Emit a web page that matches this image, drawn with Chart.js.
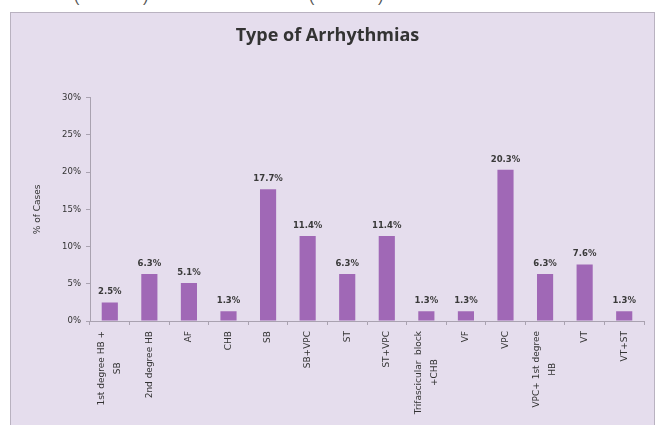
<!DOCTYPE html>
<html>
<head>
<meta charset="utf-8">
<script src="https://cdn.jsdelivr.net/npm/chart.js@4/dist/chart.umd.min.js"></script>
<style>
  html, body { margin: 0; padding: 0; background: #ffffff; overflow: hidden; }
  .paren {
    position: absolute; top: -12px;
    font: 16px "Liberation Sans", sans-serif; color: #555;
  }
  #frame {
    position: absolute; left: 10px; top: 12px; width: 645px; height: 420px;
    background: #e5dded; border: 1px solid #b9b2c0; box-sizing: border-box;
  }
</style>
</head>
<body>
<span class="paren" style="left:74px">(</span>
<span class="paren" style="left:143px">)</span>
<span class="paren" style="left:309px">(</span>
<span class="paren" style="left:378px">)</span>
<div id="frame"><canvas id="chart" width="643" height="418"></canvas></div>
<script>
const categories = [
    ['1st degree HB +', 'SB'], '2nd degree HB', 'AF', 'CHB', 'SB', 'SB+VPC', 'ST', 'ST+VPC',
    ['Trifascicular  block', '+CHB'], 'VF', 'VPC', ['VPC+ 1st degree', 'HB'], 'VT', 'VT+ST'
];
const percentCases = [2.5, 6.3, 5.1, 1.3, 17.7, 11.4, 6.3, 11.4, 1.3, 1.3, 20.3, 6.3, 7.6, 1.3];
const yTicks = [0, 5, 10, 15, 20, 25, 30];

const labelFont = '9px "DejaVu Sans", sans-serif';

// writes the value above each bar
const valueLabels = {
    id: 'valueLabels',
    afterDatasetsDraw(chart) {
        const ctx = chart.ctx;
        const meta = chart.getDatasetMeta(0);
        ctx.save();
        ctx.font = 'bold 8.5px "DejaVu Sans", sans-serif';
        ctx.fillStyle = '#3a3a3a';
        ctx.textAlign = 'center';
        ctx.textBaseline = 'bottom';
        meta.data.forEach((bar, i) => {
            ctx.fillText(percentCases[i].toFixed(1) + '%', bar.x, bar.y - 6);
        });
        ctx.restore();
    }
};

// category names, turned upright, each line centred along the block
const categoryLabels = {
    id: 'categoryLabels',
    afterDraw(chart) {
        const ctx = chart.ctx;
        const xScale = chart.scales.x;
        const top = xScale.top + 10;
        const lineGap = 16;
        ctx.save();
        ctx.font = labelFont;
        ctx.fillStyle = '#333333';
        ctx.textAlign = 'center';
        ctx.textBaseline = 'middle';
        categories.forEach((label, i) => {
            const lines = Array.isArray(label) ? label : [label];
            const len = Math.max(...lines.map(l => ctx.measureText(l).width));
            const x = xScale.getPixelForTick(i);
            ctx.save();
            ctx.translate(x, top + len / 2);
            ctx.rotate(-Math.PI / 2);
            lines.forEach((line, j) => {
                ctx.fillText(line, 0, (j - (lines.length - 1) / 2) * lineGap);
            });
            ctx.restore();
        });
        ctx.restore();
    }
};

new Chart(document.getElementById('chart'), {
    type: 'bar',
    data: {
        labels: categories,
        datasets: [{
            data: percentCases,
            backgroundColor: '#a068b6',
            categoryPercentage: 0.8,
            barPercentage: 0.51
        }]
    },
    options: {
        responsive: false,
        animation: false,
        layout: { padding: { left: 0, right: 10, top: 0, bottom: 106 } },
        plugins: {
            legend: { display: false },
            tooltip: { enabled: false },
            title: {
                display: true,
                text: 'Type of Arrhythmias',
                color: '#333333',
                font: { family: '"Open Sans", sans-serif', size: 18, weight: 'bold' },
                padding: { top: 12, bottom: 51 }
            }
        },
        scales: {
            x: {
                grid: { display: true, drawOnChartArea: false, offset: true, tickLength: 4, color: '#a9a2b0' },
                border: { display: true, color: '#a9a2b0' },
                ticks: { display: false }
            },
            y: {
                min: 0, max: 30,
                afterBuildTicks(axis) { axis.ticks = yTicks.map(v => ({ value: v })); },
                afterFit(axis) { axis.width = 79; },
                grid: { display: true, drawOnChartArea: false, tickLength: 4, color: '#a9a2b0' },
                border: { display: true, color: '#a9a2b0' },
                ticks: {
                    color: '#333333', padding: 5,
                    font: { family: '"DejaVu Sans", sans-serif', size: 8.5 },
                    callback: v => v + '%'
                },
                title: {
                    display: true, text: '% of Cases', color: '#333333', padding: { top: 21, bottom: 0 },
                    font: { family: '"DejaVu Sans", sans-serif', size: 9 }
                }
            }
        }
    },
    plugins: [valueLabels, categoryLabels]
});
</script>
</body>
</html>
